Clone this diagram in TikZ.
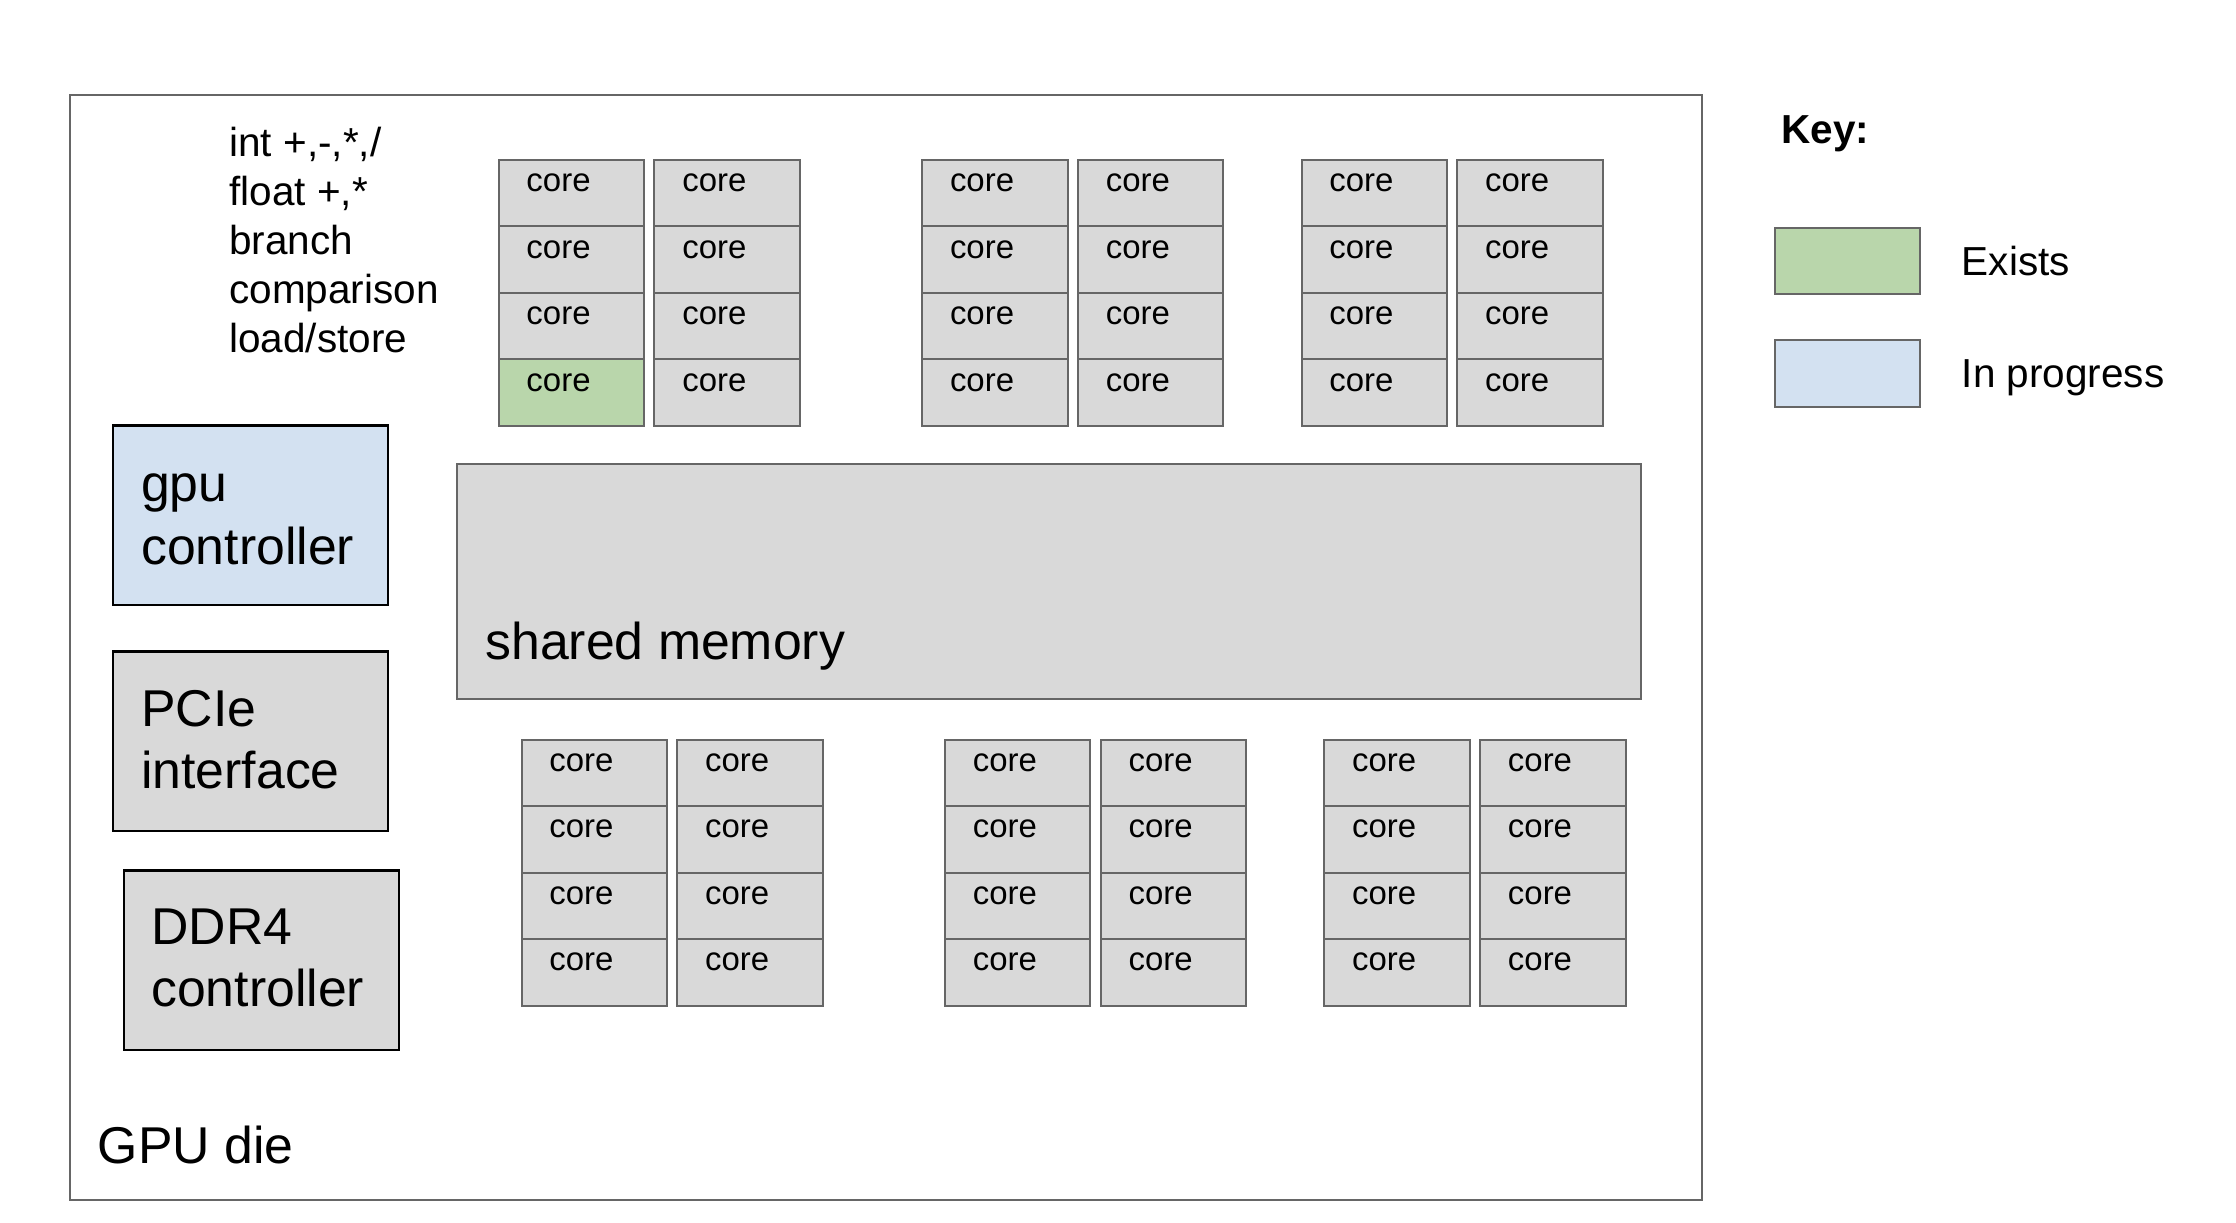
\documentclass[tikz,border=0pt]{standalone}
\usepackage{fontspec}
\setmainfont{Liberation Sans}
\usetikzlibrary{positioning}
\definecolor{chip}{HTML}{D9D9D9}
\definecolor{rim}{HTML}{666666}
\definecolor{exists}{HTML}{B9D6AB}
\definecolor{progress}{HTML}{D3E1F1}
\tikzset{
  box/.style={draw=rim,fill=chip,line width=0.7pt,inner sep=0pt,anchor=north west},
  cell/.style={box,minimum width=51pt,minimum height=23.3pt},
  block/.style={box,draw=black,line width=0.8pt,minimum width=96.5pt,minimum height=63pt},
  body/.style={font=\fontsize{14.2}{17.15}\selectfont,align=left,inner sep=0pt},
  big/.style={font=\fontsize{18.15}{21.8}\selectfont,align=left,inner sep=0pt},
  small/.style={font=\fontsize{11.55}{13.9}\selectfont,inner sep=0pt},
  keytext/.style={body,text height=10pt,text depth=0pt}
}

\begin{document}
\begin{tikzpicture}[x=0.5pt,y=-0.5pt]
  \useasboundingbox (0,0) rectangle (1568,857);
  \node[box,fill=none,minimum width=572.25pt,minimum height=387.25pt,
    label={[big,anchor=base west,xshift=9.9pt,yshift=13.15pt]south west:GPU die}] (die) at (48.5,66) {};
  \node[body,anchor=base west] (ops) at (160.5,247.2) {int +,-,*,/\\float +,*\\branch\\comparison\\load/store};
  \node[block,fill=progress,
    label={[big,anchor=base west,xshift=10.05pt,yshift=-49pt]north west:gpu\\controller}] (gpu) at (78.5,297.5) {};
  \node[block,below=15.5pt of gpu,
    label={[big,anchor=base west,xshift=10.05pt,yshift=-48.35pt]north west:PCIe\\interface}] (pcie) {};
  \node[block,below=13pt of pcie,xshift=3.75pt,
    label={[big,anchor=base west,xshift=9.85pt,yshift=-48.2pt]north west:DDR4\\controller}] (ddr) {};
  \node[box,minimum width=415pt,minimum height=82.35pt,
    label={[big,anchor=base west,xshift=10pt,yshift=-68.9pt]north west:shared memory}] (shmem) at (320,325) {};
  \foreach \cx/\cy [count=\k] in {349/111.5,646/111.5,912/111.5,365/518,662/518,928/518}
    \foreach \j in {0,1}
      \foreach \i in {0,...,3} {
        \pgfmathtruncatemacro\isnew{(\k==1)&&(\j==0)&&(\i==3)}
        \ifnum\isnew=1 \def\cellfill{exists}\else\def\cellfill{chip}\fi
        \node[cell,fill=\cellfill,
          label={[small,anchor=base west,xshift=9.9pt,yshift=-11.45pt]north west:core}]
          (c\k-\j-\i) at ({\cx+109.25*\j},{\cy+46.6*\i}) {};
      }
  \node[body,font=\fontsize{14.2}{17.15}\selectfont\bfseries,anchor=base west] (key) at (1249,100.5) {Key:};
  \node[cell,fill=exists] (ex) at (1244,159) {};
  \node[cell,fill=progress,below=15.5pt of ex] (prog) {};
  \node[keytext,right=14pt of ex] (exlbl) {Exists};
  \node[keytext,right=14pt of prog] (proglbl) {In progress};
\end{tikzpicture}
\end{document}
